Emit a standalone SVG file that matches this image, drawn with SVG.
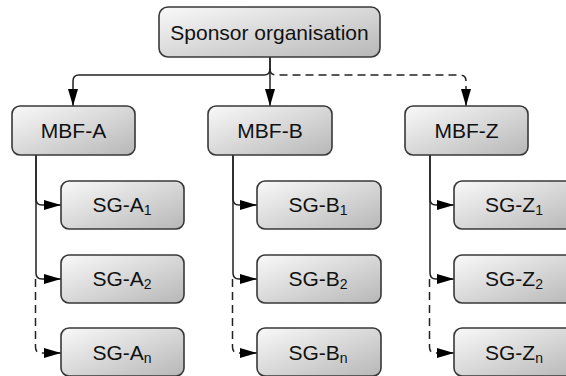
<svg xmlns="http://www.w3.org/2000/svg" width="566" height="376" viewBox="0 0 566 376">
  <defs>
    <linearGradient id="boxFill" x1="0" y1="0" x2="1" y2="1">
      <stop offset="0" stop-color="#f9f9f9"/>
      <stop offset="1" stop-color="#b7b7b7"/>
    </linearGradient>
    <marker id="arrow" viewBox="0 0 17 11" refX="17" refY="5.5" markerWidth="17" markerHeight="11" markerUnits="userSpaceOnUse" orient="auto">
      <path d="M0,0.5 L17,5.5 L0,10.5 Z" fill="#000"/>
    </marker>
    <style>
      .box { fill: url(#boxFill); stroke: #383838; stroke-width: 1.6; }
      .lbl { font-family: "Liberation Sans", Arial, sans-serif; font-size: 21px; fill: #111; text-anchor: middle; }
      .sub { font-size: 14px; }
      .edge { fill: none; stroke: #222; stroke-width: 1.5; marker-end: url(#arrow); }
      .dash { stroke-dasharray: 8 5; }
    </style>
  </defs>

  <!-- connectors -->
  <g id="connectors">
    <!-- sponsor to member bodies -->
    <path class="edge" d="M270 57 V69 Q270 75 264 75 H79 Q73 75 73 81 V106"/>
    <path class="edge" d="M270 57 V106"/>
    <path class="edge dash" d="M270 69 Q270 75 276 75 H460 Q466 75 466 81 V106"/>
    <!-- column A -->
    <path class="edge" d="M36 155 V199 Q36 205 42 205 H61"/>
    <path class="edge" d="M36 155 V273 Q36 279 42 279 H61"/>
    <path class="edge dash" d="M35.5 279 V347 Q35.5 353 41 353 H61"/>
    <!-- column B -->
    <path class="edge" d="M233 155 V199 Q233 205 239 205 H257"/>
    <path class="edge" d="M233 155 V273 Q233 279 239 279 H257"/>
    <path class="edge dash" d="M232.5 279 V347 Q232.5 353 238 353 H257"/>
    <!-- column Z -->
    <path class="edge" d="M430 155 V199 Q430 205 436 205 H454"/>
    <path class="edge" d="M430 155 V273 Q430 279 436 279 H454"/>
    <path class="edge dash" d="M429.5 279 V347 Q429.5 353 435 353 H454"/>
  </g>

  <g id="sponsor">
    <rect class="box" x="159" y="7" width="221" height="50" rx="9"/>
    <text class="lbl" x="269.5" y="39.5">Sponsor organisation</text>
  </g>

  <g id="mbf-a">
    <rect class="box" x="12" y="106" width="123" height="49" rx="8"/>
    <text class="lbl" x="73.5" y="138">MBF-A</text>
  </g>
  <g id="mbf-b">
    <rect class="box" x="208" y="106" width="124" height="49" rx="8"/>
    <text class="lbl" x="270" y="138">MBF-B</text>
  </g>
  <g id="mbf-z">
    <rect class="box" x="405" y="106" width="123" height="49" rx="8"/>
    <text class="lbl" x="466.5" y="138">MBF-Z</text>
  </g>

  <g id="sg-a1">
    <rect class="box" x="61" y="181" width="123" height="48" rx="8"/>
    <text class="lbl" x="122" y="211.5">SG-A<tspan class="sub" dy="3">1</tspan></text>
  </g>
  <g id="sg-a2">
    <rect class="box" x="61" y="255" width="123" height="48" rx="8"/>
    <text class="lbl" x="122" y="285.5">SG-A<tspan class="sub" dy="3">2</tspan></text>
  </g>
  <g id="sg-an">
    <rect class="box" x="61" y="328" width="123" height="48" rx="8"/>
    <text class="lbl" x="122" y="359.5">SG-A<tspan class="sub" dy="3">n</tspan></text>
  </g>

  <g id="sg-b1">
    <rect class="box" x="257" y="181" width="124" height="48" rx="8"/>
    <text class="lbl" x="318" y="211.5">SG-B<tspan class="sub" dy="3">1</tspan></text>
  </g>
  <g id="sg-b2">
    <rect class="box" x="257" y="255" width="124" height="48" rx="8"/>
    <text class="lbl" x="318" y="285.5">SG-B<tspan class="sub" dy="3">2</tspan></text>
  </g>
  <g id="sg-bn">
    <rect class="box" x="257" y="328" width="124" height="48" rx="8"/>
    <text class="lbl" x="318" y="359.5">SG-B<tspan class="sub" dy="3">n</tspan></text>
  </g>

  <g id="sg-z1">
    <rect class="box" x="454" y="181" width="124" height="48" rx="8"/>
    <text class="lbl" x="514" y="211.5">SG-Z<tspan class="sub" dy="3">1</tspan></text>
  </g>
  <g id="sg-z2">
    <rect class="box" x="454" y="255" width="124" height="48" rx="8"/>
    <text class="lbl" x="514" y="285.5">SG-Z<tspan class="sub" dy="3">2</tspan></text>
  </g>
  <g id="sg-zn">
    <rect class="box" x="454" y="328" width="124" height="48" rx="8"/>
    <text class="lbl" x="514" y="359.5">SG-Z<tspan class="sub" dy="3">n</tspan></text>
  </g>
</svg>
